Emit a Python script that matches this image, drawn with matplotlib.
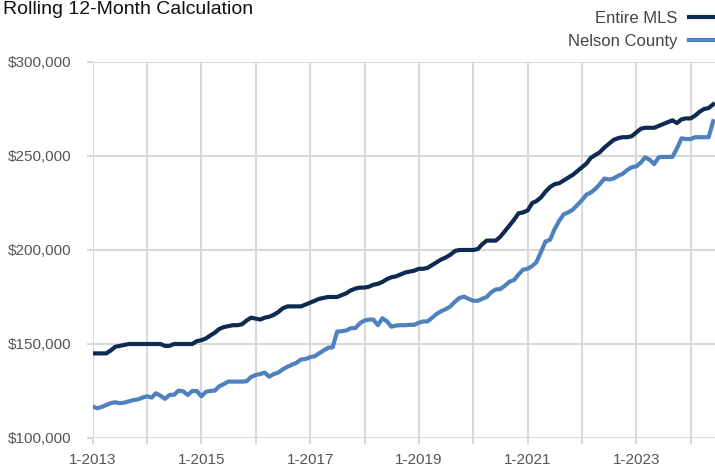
import numpy as np
import pandas as pd
import matplotlib
matplotlib.use('Agg')
import matplotlib.pyplot as plt
import matplotlib.dates as mdates

plt.rcParams['font.family'] = ['Liberation Sans', 'DejaVu Sans']

# rolling 12-month median sales price, monthly from Jan 2013 (thousands of $)
mls = [145, 145, 145, 145, 146.5, 148.5, 149, 149.5, 150, 150, 150, 150,
       150, 150, 150, 150, 149, 149, 150, 150, 150, 150, 150, 151.5,
       152, 153, 154.5, 156, 158, 159, 159.5, 160, 160, 160.5, 162.5, 164,
       163.5, 163, 164, 164.5, 165.5, 167, 169, 170, 170, 170, 170, 171,
       172, 173, 174, 174.5, 175, 175, 175, 176, 177, 178.5, 179.5, 180,
       180, 180.5, 181.5, 182, 183, 184.5, 185.5, 186, 187, 188, 188.5, 189,
       190, 190, 190.5, 192, 193.5, 195, 196, 197.5, 199.5, 200, 200, 200,
       200, 200.5, 203, 205, 205, 205, 207, 210, 213, 216, 219.5, 220,
       221, 225, 226, 228, 231, 233.5, 235, 235.5, 237, 238.5, 240, 242,
       244, 246, 249, 250.5, 252, 254.5, 256.5, 258.5, 259.5, 260, 260, 260.5,
       262.5, 264.5, 265, 265, 265, 266, 267, 268, 269, 267.5, 269.5, 270,
       270, 271.5, 273.5, 275, 275.5, 277.5]

nelson = [116.7, 115.8, 116.5, 117.5, 118.5, 119, 118.5, 118.8, 119.5, 120.2, 120.5, 121.5,
          122.2, 121.5, 123.8, 122.5, 120.8, 122.9, 123, 125.2, 124.8, 122.9, 125, 125,
          122.2, 124.6, 125, 125.2, 127.5, 128.7, 130, 130, 130, 130, 130.2, 132.5,
          133.5, 134, 134.8, 132.6, 134, 134.8, 136.5, 137.9, 139, 140, 141.8, 142,
          143, 143.5, 145, 146.5, 148, 148.2, 156.6, 156.8, 157.2, 158.4, 158.5, 161,
          162.5, 163, 163, 160, 163.7, 162, 159.2, 159.8, 160, 160, 160.2, 160.2,
          161.3, 162, 162, 164, 166, 167.5, 168.5, 170, 172.5, 174.5, 175.2, 174,
          173, 173, 174, 175, 177.5, 179, 179.2, 181, 183.1, 184, 187, 189.5,
          190, 191.5, 193.5, 199, 204.5, 205.5, 211, 215.5, 219, 220, 221.5, 224,
          226.5, 229.5, 230.5, 232.5, 235, 238, 237.5, 238, 239.5, 240.5, 242.5, 244,
          244.5, 246.5, 249.3, 248, 245.7, 249.3, 249.5, 249.5, 249.5, 254, 259.4, 259,
          259, 260, 260, 260, 260, 268.5]

labels = ['Entire MLS', 'Nelson County']
colors = ['#0e2a50', '#4f81bd']

dates = pd.date_range('2013-01-01', periods=len(mls), freq='MS')

fig = plt.figure(figsize=(7.15, 4.7), dpi=100)
ax = fig.add_axes([0.1297, 0.0681, 0.8703, 0.8])

for vals, lab, c in zip([mls, nelson], labels, colors):
    ax.plot(dates, np.array(vals) * 1000, color=c, lw=3, label=lab,
            solid_joinstyle='round', zorder=3)

ax.set_ylim(100000, 300000)
ax.set_yticks(np.arange(100000, 300001, 50000))
ax.yaxis.set_major_formatter(plt.FuncFormatter(lambda v, p: '${:,.0f}'.format(v)))

ax.set_xlim(dates[0], dates[-1] + pd.Timedelta(days=12))
ax.xaxis.set_major_locator(mdates.YearLocator(1))
ax.xaxis.set_major_formatter(plt.FuncFormatter(
    lambda v, p: '1-%d' % mdates.num2date(v).year if (mdates.num2date(v).year - 2013) % 2 == 0 else ''))

for s in ax.spines.values():
    s.set_visible(False)
ax.grid(True, color='#d9d9d9', lw=1.5, zorder=0)
ax.tick_params(axis='both', color='#d9d9d9', width=1.5, length=4.5,
               labelsize=11, labelcolor='#555555')
ax.tick_params(axis='y', pad=10.5)
ax.tick_params(axis='x', pad=6)

fig.text(0.004, 1 - 14 / 470, 'Rolling 12-Month Calculation', fontsize=14,
         color='#111111', va='baseline', ha='left')

fig.legend(loc='upper right', bbox_to_anchor=(1.045, 1.008), frameon=False,
           markerfirst=False, fontsize=12, labelcolor='#444444',
           handlelength=2.6, handletextpad=0.7, labelspacing=0.45)

fig.savefig('out.png', dpi=100)
